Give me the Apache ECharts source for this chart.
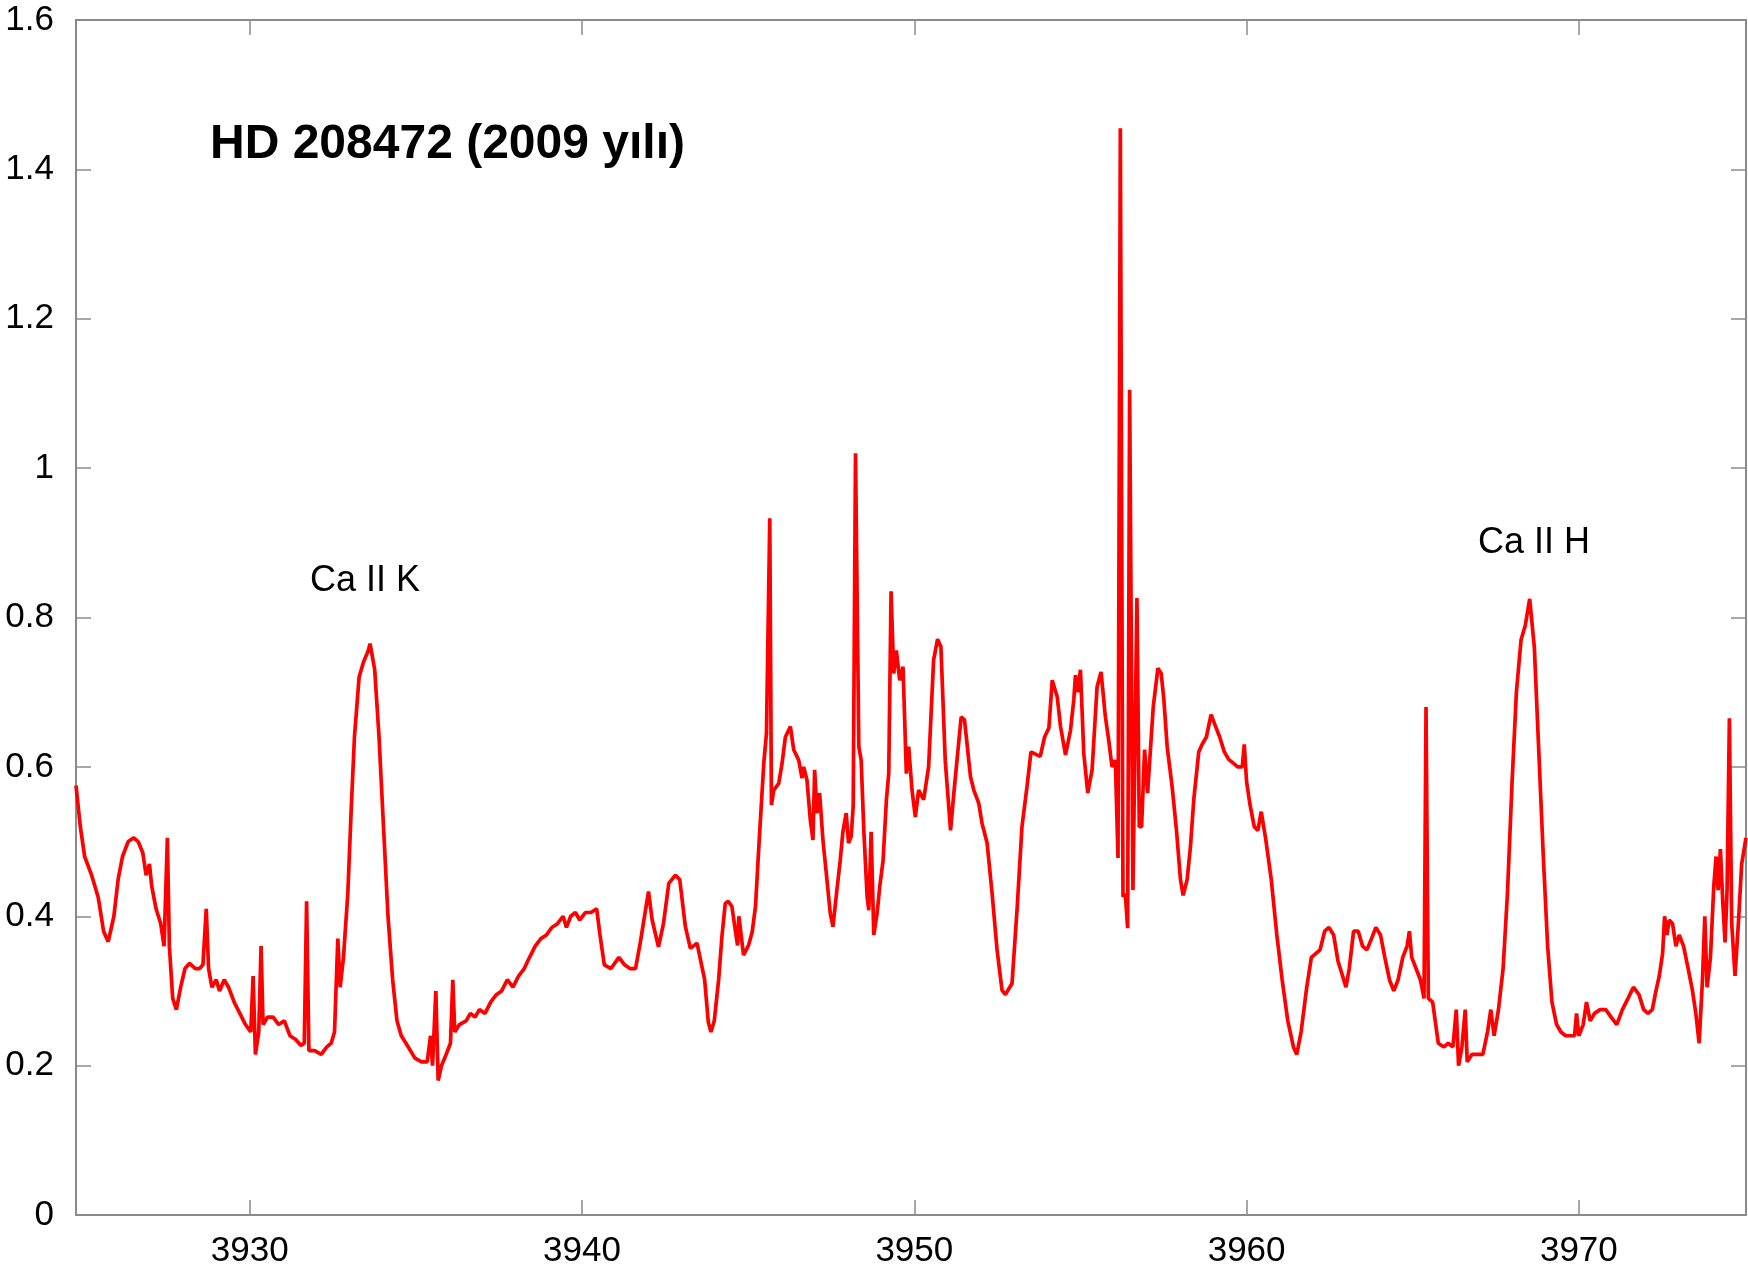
<!DOCTYPE html>
<html>
<head>
<meta charset="utf-8">
<script src="https://cdn.jsdelivr.net/npm/echarts@6/dist/echarts.min.js"></script>
<style>
  html, body { margin: 0; padding: 0; background: #fff; }
  #chart { width: 1748px; height: 1275px; }
</style>
</head>
<body>
<div id="chart"></div>
<script>
// wavelength (Å) and normalised flux
const wave = [
  3924.77, 3924.90, 3925.03, 3925.24, 3925.44, 3925.60, 3925.74, 3925.91, 3926.04, 3926.17,
  3926.34, 3926.51, 3926.64, 3926.78, 3926.88, 3926.98, 3927.05, 3927.18, 3927.32, 3927.42,
  3927.52, 3927.58, 3927.68, 3927.79, 3927.92, 3928.05, 3928.19, 3928.36, 3928.49, 3928.59,
  3928.69, 3928.76, 3928.86, 3928.99, 3929.09, 3929.23, 3929.36, 3929.53, 3929.70, 3929.87,
  3930.03, 3930.10, 3930.17, 3930.27, 3930.34, 3930.40, 3930.54, 3930.70, 3930.87, 3931.04,
  3931.21, 3931.38, 3931.54, 3931.64, 3931.71, 3931.78, 3931.95, 3932.15, 3932.32, 3932.45,
  3932.55, 3932.65, 3932.72, 3932.82, 3932.95, 3933.05, 3933.15, 3933.29, 3933.42, 3933.56,
  3933.62, 3933.76, 3933.89, 3934.03, 3934.16, 3934.30, 3934.43, 3934.56, 3934.77, 3934.97,
  3935.17, 3935.34, 3935.44, 3935.50, 3935.60, 3935.67, 3935.77, 3935.91, 3936.04, 3936.11,
  3936.17, 3936.31, 3936.51, 3936.64, 3936.78, 3936.91, 3937.08, 3937.25, 3937.42, 3937.58,
  3937.75, 3937.92, 3938.09, 3938.26, 3938.42, 3938.59, 3938.76, 3938.93, 3939.09, 3939.26,
  3939.43, 3939.53, 3939.66, 3939.80, 3939.93, 3940.10, 3940.27, 3940.44, 3940.54, 3940.67,
  3940.87, 3941.11, 3941.28, 3941.44, 3941.61, 3941.75, 3942.00, 3942.11, 3942.30, 3942.45,
  3942.61, 3942.81, 3942.94, 3943.11, 3943.26, 3943.46, 3943.61, 3943.69, 3943.80, 3943.88,
  3943.98, 3944.11, 3944.21, 3944.31, 3944.40, 3944.51, 3944.61, 3944.68, 3944.72, 3944.86,
  3945.01, 3945.12, 3945.22, 3945.32, 3945.47, 3945.55, 3945.65, 3945.70, 3945.77, 3945.92,
  3946.02, 3946.12, 3946.27, 3946.37, 3946.52, 3946.62, 3946.67, 3946.77, 3946.87, 3946.95,
  3947.00, 3947.07, 3947.15, 3947.25, 3947.37, 3947.47, 3947.55, 3947.67, 3947.77, 3947.85,
  3947.95, 3948.02, 3948.10, 3948.16, 3948.23, 3948.33, 3948.40, 3948.48, 3948.58, 3948.63,
  3948.70, 3948.78, 3948.88, 3948.96, 3949.06, 3949.16, 3949.23, 3949.30, 3949.38, 3949.46,
  3949.56, 3949.66, 3949.76, 3949.83, 3949.93, 3950.03, 3950.13, 3950.28, 3950.43, 3950.58,
  3950.70, 3950.80, 3950.93, 3951.09, 3951.19, 3951.41, 3951.51, 3951.69, 3951.79, 3951.94,
  3952.04, 3952.19, 3952.34, 3952.49, 3952.64, 3952.74, 3952.94, 3953.09, 3953.24, 3953.39,
  3953.51, 3953.69, 3953.79, 3953.92, 3954.05, 3954.15, 3954.30, 3954.40, 3954.55, 3954.70,
  3954.80, 3954.85, 3954.92, 3955.00, 3955.10, 3955.22, 3955.35, 3955.50, 3955.62, 3955.75,
  3955.85, 3955.95, 3956.05, 3956.13, 3956.20, 3956.28, 3956.35, 3956.42, 3956.48, 3956.58,
  3956.70, 3956.77, 3956.84, 3956.93, 3957.02, 3957.19, 3957.33, 3957.43, 3957.51, 3957.61,
  3957.76, 3957.89, 3958.01, 3958.09, 3958.21, 3958.31, 3958.41, 3958.56, 3958.66, 3958.79,
  3958.93, 3959.06, 3959.19, 3959.33, 3959.46, 3959.60, 3959.73, 3959.87, 3959.93, 3960.00,
  3960.10, 3960.23, 3960.34, 3960.44, 3960.57, 3960.74, 3960.91, 3961.07, 3961.24, 3961.41,
  3961.51, 3961.64, 3961.81, 3961.95, 3962.08, 3962.21, 3962.35, 3962.48, 3962.62, 3962.75,
  3962.89, 3962.99, 3963.09, 3963.22, 3963.36, 3963.49, 3963.62, 3963.76, 3963.89, 3964.03,
  3964.16, 3964.30, 3964.43, 3964.56, 3964.70, 3964.83, 3964.90, 3964.97, 3965.10, 3965.23,
  3965.34, 3965.40, 3965.47, 3965.60, 3965.77, 3965.94, 3966.07, 3966.21, 3966.31, 3966.38,
  3966.48, 3966.58, 3966.64, 3966.78, 3966.95, 3967.11, 3967.25, 3967.35, 3967.45, 3967.58,
  3967.72, 3967.85, 3967.99, 3968.12, 3968.26, 3968.39, 3968.52, 3968.66, 3968.79, 3968.93,
  3969.06, 3969.19, 3969.33, 3969.46, 3969.60, 3969.73, 3969.87, 3969.93, 3970.00, 3970.13,
  3970.23, 3970.34, 3970.47, 3970.64, 3970.81, 3970.97, 3971.14, 3971.31, 3971.48, 3971.64,
  3971.81, 3971.95, 3972.08, 3972.21, 3972.32, 3972.42, 3972.52, 3972.58, 3972.65, 3972.72,
  3972.82, 3972.92, 3973.02, 3973.15, 3973.29, 3973.42, 3973.52, 3973.62, 3973.72, 3973.79,
  3973.86, 3973.96, 3974.06, 3974.13, 3974.19, 3974.26, 3974.33, 3974.40, 3974.46, 3974.53,
  3974.60, 3974.70, 3974.80, 3974.90, 3975.03
]

const flux = [
  0.575, 0.52, 0.48, 0.455, 0.425, 0.38, 0.366, 0.40, 0.45, 0.48,
  0.50, 0.505, 0.50, 0.485, 0.455, 0.47, 0.44, 0.41, 0.39, 0.36,
  0.505, 0.36, 0.29, 0.275, 0.305, 0.33, 0.337, 0.33, 0.33, 0.335,
  0.41, 0.33, 0.305, 0.315, 0.30, 0.315, 0.305, 0.285, 0.27, 0.255,
  0.245, 0.32, 0.215, 0.245, 0.36, 0.255, 0.265, 0.265, 0.255, 0.26,
  0.24, 0.235, 0.227, 0.23, 0.42, 0.22, 0.22, 0.215, 0.225, 0.23,
  0.245, 0.37, 0.305, 0.345, 0.43, 0.54, 0.64, 0.72, 0.74, 0.755,
  0.765, 0.73, 0.64, 0.515, 0.40, 0.315, 0.26, 0.24, 0.225, 0.21,
  0.205, 0.205, 0.24, 0.20, 0.30, 0.18, 0.20, 0.215, 0.23, 0.315,
  0.245, 0.255, 0.26, 0.27, 0.265, 0.275, 0.27, 0.285, 0.295, 0.30,
  0.315, 0.305, 0.32, 0.33, 0.345, 0.36, 0.37, 0.375, 0.385, 0.39,
  0.40, 0.385, 0.40, 0.405, 0.395, 0.405, 0.405, 0.41, 0.375, 0.335,
  0.33, 0.345, 0.335, 0.33, 0.33, 0.364, 0.433, 0.395, 0.359, 0.39,
  0.444, 0.455, 0.449, 0.386, 0.357, 0.364, 0.332, 0.315, 0.258, 0.245,
  0.26, 0.315, 0.373, 0.417, 0.42, 0.413, 0.382, 0.361, 0.40, 0.348,
  0.361, 0.379, 0.413, 0.493, 0.605, 0.645, 0.933, 0.549, 0.569, 0.578,
  0.605, 0.64, 0.654, 0.623, 0.609, 0.585, 0.60, 0.582, 0.529, 0.502,
  0.596, 0.538, 0.565, 0.502, 0.449, 0.404, 0.386, 0.435, 0.475, 0.513,
  0.538, 0.498, 0.507, 0.547, 1.02, 0.627, 0.609, 0.515, 0.426, 0.408,
  0.513, 0.375, 0.404, 0.44, 0.475, 0.556, 0.591, 0.835, 0.725, 0.756,
  0.716, 0.734, 0.591, 0.627, 0.569, 0.533, 0.569, 0.556, 0.60, 0.743,
  0.771, 0.761, 0.609, 0.515, 0.565, 0.667, 0.663, 0.587, 0.569, 0.551,
  0.524, 0.498, 0.431, 0.355, 0.301, 0.295, 0.310, 0.408, 0.52, 0.573,
  0.62, 0.616, 0.614, 0.64, 0.652, 0.716, 0.694, 0.654, 0.616, 0.649,
  0.69, 0.723, 0.70, 0.73, 0.618, 0.565, 0.596, 0.707, 0.727, 0.667,
  0.636, 0.60, 0.609, 0.478, 1.455, 0.426, 0.43, 0.384, 1.105, 0.435,
  0.826, 0.52, 0.52, 0.623, 0.565, 0.68, 0.732, 0.725, 0.69, 0.627,
  0.573, 0.515, 0.449, 0.428, 0.449, 0.493, 0.556, 0.62, 0.63, 0.64,
  0.67, 0.655, 0.64, 0.62, 0.61, 0.605, 0.60, 0.60, 0.63, 0.58,
  0.55, 0.52, 0.515, 0.54, 0.505, 0.45, 0.375, 0.315, 0.26, 0.225,
  0.215, 0.245, 0.305, 0.345, 0.35, 0.355, 0.38, 0.385, 0.375, 0.34,
  0.32, 0.305, 0.33, 0.38, 0.38, 0.36, 0.355, 0.37, 0.385, 0.375,
  0.345, 0.315, 0.30, 0.315, 0.345, 0.36, 0.38, 0.345, 0.33, 0.315,
  0.29, 0.68, 0.29, 0.285, 0.23, 0.225, 0.23, 0.225, 0.275, 0.20,
  0.225, 0.275, 0.205, 0.215, 0.215, 0.215, 0.245, 0.275, 0.24, 0.275,
  0.33, 0.43, 0.58, 0.70, 0.77, 0.79, 0.825, 0.76, 0.625, 0.48,
  0.36, 0.285, 0.255, 0.245, 0.24, 0.24, 0.24, 0.27, 0.24, 0.255,
  0.285, 0.26, 0.27, 0.275, 0.275, 0.265, 0.255, 0.275, 0.29, 0.305,
  0.295, 0.275, 0.27, 0.275, 0.30, 0.32, 0.35, 0.40, 0.375, 0.395,
  0.39, 0.36, 0.375, 0.36, 0.33, 0.30, 0.27, 0.23, 0.315, 0.40,
  0.305, 0.345, 0.44, 0.48, 0.435, 0.49, 0.42, 0.365, 0.435, 0.665,
  0.39, 0.32, 0.39, 0.47, 0.505
]

// axis ticks
const xTicks = [3930, 3940, 3950, 3960, 3970]
const xMin = 3924.77
const xMax = 3975.03
const yTicks = [0, 0.2, 0.4, 0.6, 0.8, 1, 1.2, 1.4, 1.6]

const FONT = '"Liberation Sans", Arial, sans-serif'
const axisGray = '#8a8a8a'

const chart = echarts.init(document.getElementById('chart'))

const baseX = {
  type: 'value',
  min: xMin,
  max: xMax,
  axisLine: { show: true, onZero: false, lineStyle: { color: axisGray, width: 2 } },
  axisTick: { show: true, inside: true, length: 15, customValues: xTicks, lineStyle: { color: axisGray, width: 1.5 } },
  splitLine: { show: false }
}
const baseY = {
  type: 'value',
  min: yTicks[0],
  max: yTicks[yTicks.length - 1],
  interval: 0.2,
  axisLine: { show: true, onZero: false, lineStyle: { color: axisGray, width: 2 } },
  axisTick: { show: true, inside: true, length: 15, lineStyle: { color: axisGray, width: 1.5 } },
  splitLine: { show: false }
}

const option = {
  animation: false,
  backgroundColor: '#fff',
  grid: { left: 76, right: 2, top: 20, bottom: 60, containLabel: false },
  xAxis: [
    Object.assign({}, baseX, {
      position: 'bottom',
      axisLabel: {
        customValues: xTicks,
        formatter: v => String(v),
        color: '#000', fontSize: 35, fontFamily: FONT, margin: 19
      }
    }),
    Object.assign({}, baseX, {
      position: 'top',
      axisLabel: { show: false }
    })
  ],
  yAxis: [
    Object.assign({}, baseY, {
      position: 'left',
      axisLabel: { color: '#000', fontSize: 35, fontFamily: FONT, margin: 22 }
    }),
    Object.assign({}, baseY, {
      position: 'right',
      axisLabel: { show: false }
    })
  ],
  graphic: [
    {
      type: 'text', x: 210, y: 145,
      style: { text: 'HD 208472 (2009 yılı)', font: 'bold 48px ' + FONT, fill: '#000', align: 'left', verticalAlign: 'middle' }
    },
    {
      type: 'text', x: 365, y: 581,
      style: { text: 'Ca II K', font: '36px ' + FONT, fill: '#000', align: 'center', verticalAlign: 'middle' }
    },
    {
      type: 'text', x: 1534, y: 543,
      style: { text: 'Ca II H', font: '36px ' + FONT, fill: '#000', align: 'center', verticalAlign: 'middle' }
    }
  ],
  series: [{
    type: 'line',
    xAxisIndex: 0,
    yAxisIndex: 0,
    data: wave.map((w, i) => [w, flux[i]]),
    showSymbol: false,
    lineStyle: { color: '#ff0000', width: 3.7 },
    z: 3
  }]
}

chart.setOption(option)
</script>
</body>
</html>
